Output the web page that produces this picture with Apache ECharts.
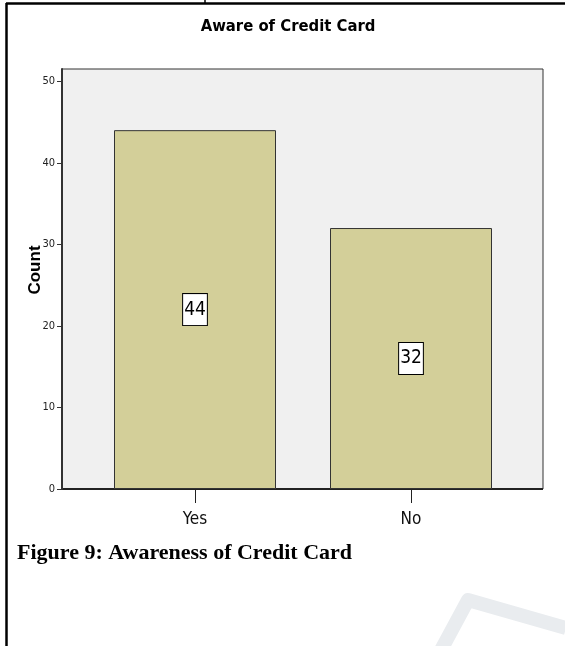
<!DOCTYPE html>
<html>
<head>
<meta charset="utf-8">
<script src="https://cdn.jsdelivr.net/npm/echarts@6/dist/echarts.min.js"></script>
<style>
  html, body { margin: 0; padding: 0; background: #fff; }
  #chart { width: 565px; height: 646px; }
</style>
</head>
<body>
<div id="chart"></div>
<script>
// Awareness of credit card among respondents
const categories = ['Yes', 'No'];
const counts = [44, 32];
const yTicks = [0, 10, 20, 30, 40, 50];

const narrow = '"Liberation Sans Narrow", "Arial Narrow", "DejaVu Sans Condensed", "Liberation Sans", Arial, sans-serif';
const yMax = 51.5;

const chart = echarts.init(document.getElementById('chart'), null, { renderer: 'canvas' });

chart.setOption({
  backgroundColor: '#ffffff',
  animation: false,
  title: {
    text: 'Aware of Credit Card',
    left: 283,
    top: 13,
    textAlign: 'center',
    textStyle: { fontFamily: narrow, fontWeight: 'bold', fontSize: 16.5, color: '#000' }
  },
  grid: [
    // plot panel with the count axis
    { left: 62, right: 22, top: 69, bottom: 157, show: true,
      backgroundColor: '#f0f0f0', borderColor: '#333', borderWidth: 1 },
    // category layout for the bars
    { left: 87, right: 46, top: 69, bottom: 157 }
  ],
  xAxis: [
    { gridIndex: 0, type: 'value', min: 0, max: 1, show: false },
    {
      gridIndex: 1, type: 'category', data: categories,
      axisLine: { show: false },
      axisTick: { show: true, alignWithLabel: true, length: 14, lineStyle: { color: '#222', width: 1 } },
      axisLabel: { margin: 22, fontFamily: narrow, fontSize: 17, color: '#111' }
    }
  ],
  yAxis: [
    {
      gridIndex: 0, type: 'value', min: 0, max: yMax, interval: 10,
      axisLine: { show: true, lineStyle: { color: '#333', width: 2 } },
      axisTick: { show: true, length: 5, customValues: yTicks, lineStyle: { color: '#333' } },
      axisLabel: {
        margin: 7, fontFamily: narrow, fontSize: 11, color: '#222',
        customValues: yTicks
      },
      splitLine: { show: false }
    },
    { gridIndex: 1, type: 'value', min: 0, max: yMax, show: false }
  ],
  series: [
    {
      type: 'bar',
      xAxisIndex: 1, yAxisIndex: 1,
      data: counts,
      barWidth: 162,
      itemStyle: { color: '#d3cf99', borderColor: '#333', borderWidth: 1 },
      label: {
        show: true, position: 'inside',
        fontFamily: narrow, fontSize: 19, color: '#000',
        backgroundColor: '#ffffff', borderColor: '#000', borderWidth: 1,
        padding: [7, 1, 5, 1]
      }
    }
  ],
  graphic: [
    { type: 'line', shape: { x1: 6, y1: 3.5, x2: 565, y2: 3.5 }, style: { stroke: '#000', lineWidth: 2.5 } },
    { type: 'line', shape: { x1: 6.5, y1: 3, x2: 6.5, y2: 646 }, style: { stroke: '#000', lineWidth: 2.5 } },
    { type: 'line', shape: { x1: 205, y1: 0, x2: 205, y2: 4 }, style: { stroke: '#000', lineWidth: 1.5 } },
    { type: 'line', shape: { x1: 62, y1: 489, x2: 543, y2: 489 }, style: { stroke: '#222', lineWidth: 2 } },
    {
      // rotated axis title
      type: 'text', x: 35, y: 270, rotation: Math.PI / 2,
      style: {
        text: 'Count', font: 'bold 17px "Liberation Sans", Arial, sans-serif', fill: '#000',
        align: 'center', verticalAlign: 'middle'
      }
    },
    {
      type: 'text', left: 17, top: 542,
      style: { text: 'Figure 9: Awareness of Credit Card', font: 'bold 22px "Liberation Serif", "Times New Roman", serif', fill: '#000' }
    },
    {
      type: 'polyline',
      shape: { points: [[440, 652], [468, 600], [566, 628]] },
      style: { stroke: '#e9ecef', lineWidth: 14, fill: null, lineJoin: 'round' }
    }
  ]
});
</script>
</body>
</html>
